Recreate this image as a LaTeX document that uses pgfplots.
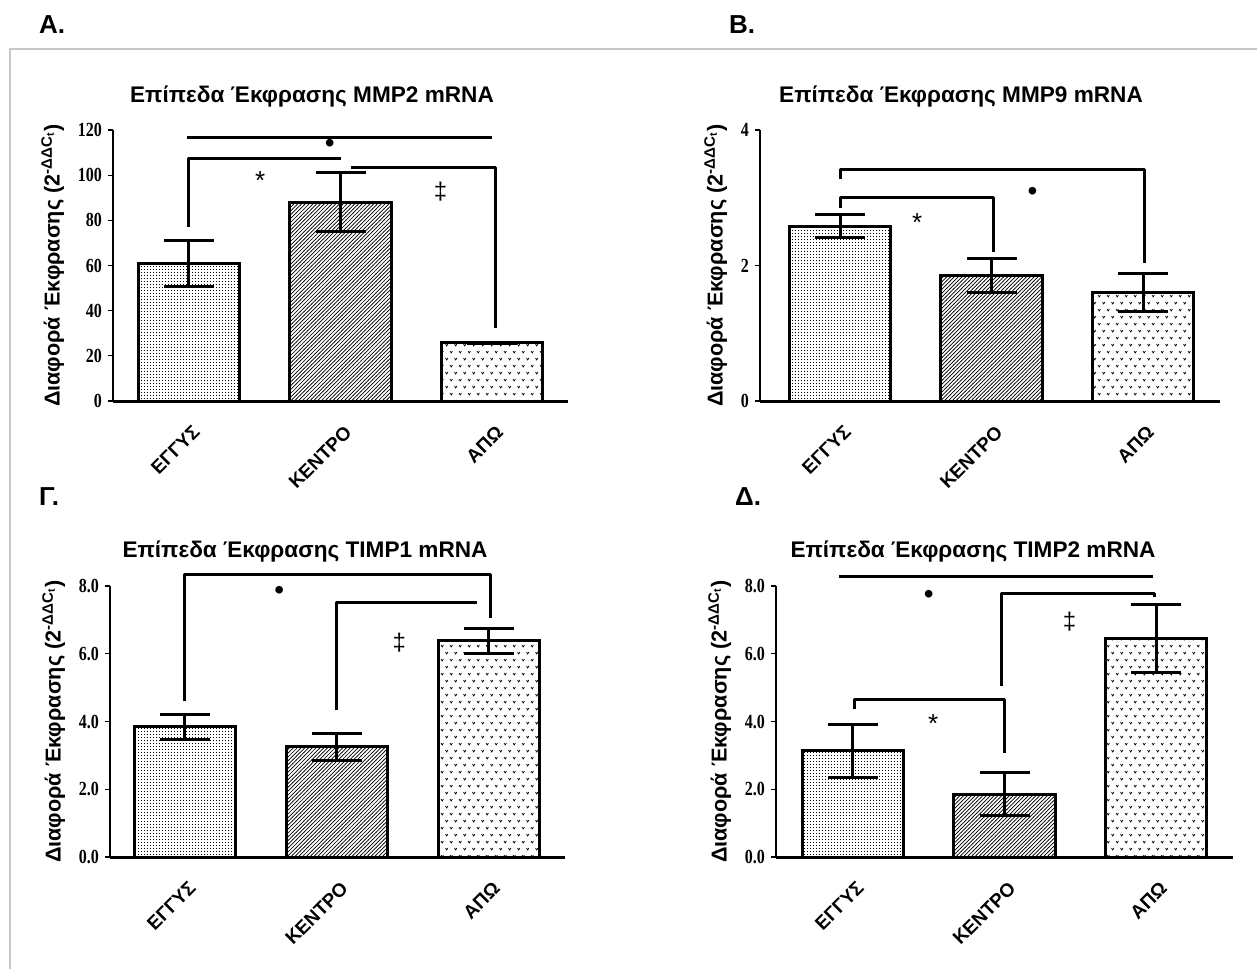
\documentclass[border=0pt]{standalone}
\usepackage{fontspec}
\setmainfont{Liberation Sans}
\newfontfamily\tickfont[FakeStretch=0.8]{Liberation Serif}
\usepackage{pgfplots}
\pgfplotsset{compat=1.18}
\usetikzlibrary{patterns}

% textures of the three bars
\pgfdeclarepatternformonly{fdots}{\pgfqpoint{-0.1pt}{-0.1pt}}{\pgfqpoint{1.6pt}{1.6pt}}{\pgfqpoint{1.5pt}{1.5pt}}{%
  \pgfpathrectangle{\pgfqpoint{0pt}{0pt}}{\pgfqpoint{0.55pt}{0.55pt}}\pgfusepath{fill}}
\pgfdeclarepatternformonly{hatch}{\pgfqpoint{-0.5pt}{-0.5pt}}{\pgfqpoint{2.4pt}{2.4pt}}{\pgfqpoint{1.9pt}{1.9pt}}{%
  \pgfsetlinewidth{0.35pt}\pgfpathmoveto{\pgfqpoint{-0.1pt}{-0.1pt}}\pgfpathlineto{\pgfqpoint{2pt}{2pt}}\pgfusepath{stroke}}
\pgfdeclarepatternformonly{vmarks}{\pgfqpoint{-0.5pt}{-0.5pt}}{\pgfqpoint{5pt}{7.5pt}}{\pgfqpoint{4.5pt}{7pt}}{%
  \pgfsetlinewidth{0.35pt}%
  \pgfpathmoveto{\pgfqpoint{0pt}{1pt}}\pgfpathlineto{\pgfqpoint{0.6pt}{0pt}}\pgfpathlineto{\pgfqpoint{1.2pt}{1pt}}%
  \pgfpathmoveto{\pgfqpoint{2.25pt}{4.5pt}}\pgfpathlineto{\pgfqpoint{2.85pt}{3.5pt}}\pgfpathlineto{\pgfqpoint{3.45pt}{4.5pt}}%
  \pgfusepath{stroke}}

\tikzset{
  sig/.style={line width=1.5pt, line join=round},
  star/.style={font=\fontsize{13}{13}\selectfont},
  dot/.style={font=\fontsize{14}{14}\selectfont},
  dag/.style={font=\fontsize{12}{12}\selectfont},
  title/.style={font=\bfseries\fontsize{11.3}{13}\selectfont},
  letter/.style={font=\bfseries\fontsize{13}{13}\selectfont, anchor=west},
}

\pgfplotsset{
  panel/.style={
    scale only axis, anchor=south west, clip=false,
    axis x line*=bottom, axis y line*=left,
    x axis line style={-,line width=1.5pt},
    y axis line style={-,line width=1pt},
    ymin=0, enlargelimits=false,
    xtick={0,1,2}, xticklabels={ΕΓΓΥΣ,ΚΕΝΤΡΟ,ΑΠΩ},
    x tick style={draw=none},
    xticklabel style={rotate=45, anchor=north east, font=\bfseries\fontsize{9.5}{10}\selectfont, yshift=-4pt, xshift=-2pt},
    tick align=outside, major tick length=2.5pt,
    y tick style={line width=0.6pt, black},
    yticklabel style={font=\tickfont\bfseries\fontsize{10}{10}\selectfont, xshift=0.5pt},
    /pgf/number format/assume math mode=true,
    ylabel={Διαφορά Έκφρασης (2\textsuperscript{-ΔΔC\textsubscript{t}})},
    ylabel style={font=\bfseries\fontsize{10.8}{12}\selectfont},
    ybar, bar width=0.667, bar shift=0pt,
    error bars/y dir=both, error bars/y explicit,
    error bars/error bar style={line width=1.5pt},
    error bars/error mark options={rotate=90, mark size=12.5pt, line width=1.5pt},
  },
  b1/.style={draw=black, line width=1.5pt, pattern=fdots},
  b2/.style={draw=black, line width=1.5pt, pattern=hatch},
  b3/.style={draw=black, line width=1.5pt, pattern=vmarks},
}

\begin{document}
\begin{tikzpicture}
\useasboundingbox (0,0) rectangle (628.5pt,-484.5pt);
\draw[black!22, line width=0.7pt] (5pt,-484.5pt) -- (5pt,-24.5pt) -- (628.5pt,-24.5pt);

% panel letters and titles
\node[letter] at (16pt,-12.5pt) {A.};
\node[letter] at (361pt,-12.5pt) {B.};
\node[letter] at (16pt,-248.5pt) {Γ.};
\node[letter] at (364pt,-248.5pt) {Δ.};
\node[title] at (156pt,-48.5pt) {Επίπεδα Έκφρασης MMP2 mRNA};
\node[title] at (480.5pt,-48.5pt) {Επίπεδα Έκφρασης MMP9 mRNA};
\node[title] at (152.5pt,-276pt) {Επίπεδα Έκφρασης TIMP1 mRNA};
\node[title] at (486.5pt,-276pt) {Επίπεδα Έκφρασης TIMP2 mRNA};

% A: MMP2
\begin{axis}[panel, at={(56.5pt,-200.5pt)}, width=227.5pt, height=135.5pt,
  xmin=-0.5, xmax=2.5, ymax=120, ytick={0,20,...,120}]
\addplot[b1] coordinates {(0,60.8) +- (0,10.2)};
\addplot[b2] coordinates {(1,88.1) +- (0,13)};
\addplot[b3] coordinates {(2,25.7) +- (0,0.4)};
\draw[sig] (axis cs:-0.01,116.5) -- (axis cs:2.0,116.5);
\draw[sig] (axis cs:0,77) |- (axis cs:1.0,107.6);
\draw[sig] (axis cs:1.07,103.6) -| (axis cs:2.02,32.3);
\node[dot] at (axis cs:0.93,112.9) {•};
\node[star] at (axis cs:0.47,97.5) {*};
\node[dag] at (axis cs:1.66,92.5) {‡};
\end{axis}

% B: MMP9
\begin{axis}[panel, at={(380pt,-200.5pt)}, width=230pt, height=135.5pt,
  xmin=-0.528, xmax=2.508, ymax=4, ytick={0,2,4}]
\addplot[b1] coordinates {(0,2.58) +- (0,0.17)};
\addplot[b2] coordinates {(1,1.85) +- (0,0.25)};
\addplot[b3] coordinates {(2,1.6) +- (0,0.28)};
\draw[sig] (axis cs:0,3.28) |- (axis cs:2.01,3.42) -- (axis cs:2.01,2.04);
\draw[sig] (axis cs:0,2.85) |- (axis cs:1.01,3.0) -- (axis cs:1.01,2.2);
\node[dot] at (axis cs:1.27,3.06) {•};
\node[star] at (axis cs:0.51,2.63) {*};
\end{axis}

% Gamma: TIMP1
\begin{axis}[panel, at={(55pt,-428.5pt)}, width=227.5pt, height=135.5pt,
  xmin=-0.493, xmax=2.5, ymax=8, ytick={0,2,...,8},
  yticklabel style={/pgf/number format/.cd, fixed, fixed zerofill, precision=1}]
\addplot[b1] coordinates {(0,3.84) +- (0,0.38)};
\addplot[b2] coordinates {(1,3.25) +- (0,0.4)};
\addplot[b3] coordinates {(2,6.38) +- (0,0.36)};
\draw[sig] (axis cs:0,4.6) |- (axis cs:2.01,8.35) -- (axis cs:2.01,7.06);
\draw[sig] (axis cs:1,4.35) |- (axis cs:1.92,7.5);
\node[dot] at (axis cs:0.62,7.79) {•};
\node[dag] at (axis cs:1.41,6.32) {‡};
\end{axis}

% Delta: TIMP2
\begin{axis}[panel, at={(388pt,-428.5pt)}, width=228.5pt, height=135.5pt,
  xmin=-0.508, xmax=2.508, ymax=8, ytick={0,2,...,8},
  yticklabel style={/pgf/number format/.cd, fixed, fixed zerofill, precision=1}]
\addplot[b1] coordinates {(0,3.13) +- (0,0.77)};
\addplot[b2] coordinates {(1,1.86) +- (0,0.63)};
\addplot[b3] coordinates {(2,6.44) +- (0,1.0)};
\draw[sig] (axis cs:-0.09,8.27) -- (axis cs:1.98,8.27);
\draw[sig] (axis cs:0.98,5.05) |- (axis cs:1.99,7.79) -- (axis cs:1.99,7.67);
\draw[sig] (axis cs:0.01,4.37) |- (axis cs:1.0,4.66) -- (axis cs:1.0,3.07);
\node[dot] at (axis cs:0.50,7.67) {•};
\node[dag] at (axis cs:1.43,6.94) {‡};
\node[star] at (axis cs:0.53,3.95) {*};
\end{axis}
\end{tikzpicture}
\end{document}
